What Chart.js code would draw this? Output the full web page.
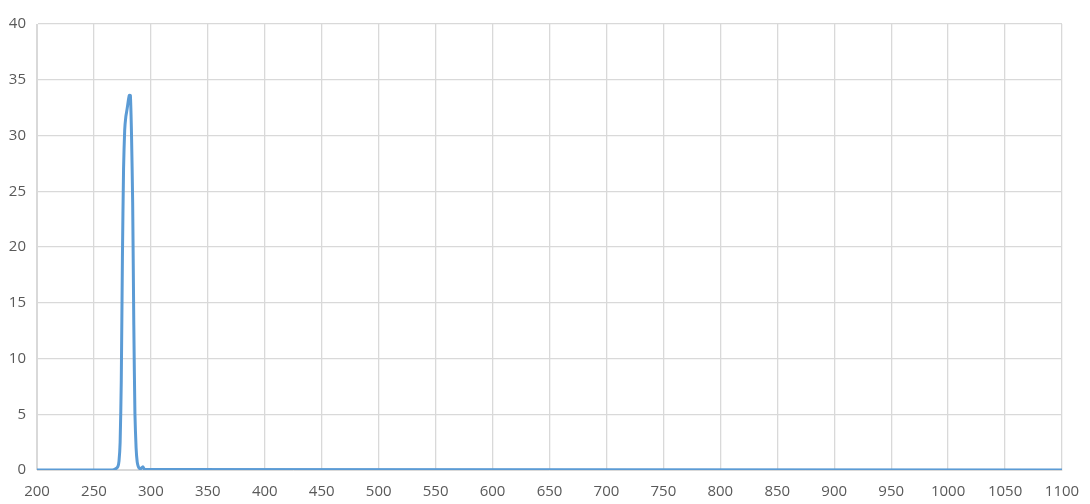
<!DOCTYPE html>
<html>
<head>
<meta charset="utf-8">
<script src="https://cdn.jsdelivr.net/npm/chart.js@4"></script>
<style>
    html, body { margin: 0; padding: 0; background: #ffffff; }
    #wrap { width: 1090px; height: 504px; position: relative; }
</style>
</head>
<body>
<div id="wrap"><canvas id="spectrumChart"></canvas></div>
<script>
const wavelengths = [200, 266, 269, 271, 272, 273, 274, 275, 276, 277, 278, 279, 280, 281, 282, 283, 284, 285, 286, 287, 288, 289, 290, 291, 293, 294, 296, 1100];
const intensity = [0, 0, 0.1, 0.3, 0.8, 2.5, 8, 19, 27, 30.5, 31.7, 32.3, 33, 33.6, 33.6, 30, 24, 13, 5, 2, 0.7, 0.3, 0.15, 0.1, 0.3, 0.1, 0.05, 0];
const xTicks = [200, 250, 300, 350, 400, 450, 500, 550, 600, 650, 700, 750, 800, 850, 900, 950, 1000, 1050, 1100];
const yTicks = [0, 5, 10, 15, 20, 25, 30, 35, 40];

let spectrumChartInstance = null;

function renderSpectrumChart() {
    const ctx = document.getElementById("spectrumChart");
    if (!ctx) return;

    const points = wavelengths.map((w, i) => ({ x: w, y: intensity[i] }));
    const tickFont = { family: "'Open Sans', 'Liberation Sans', sans-serif", size: 15 };

    spectrumChartInstance = new Chart(ctx, {
        type: "line",
        data: {
            datasets: [{
                data: points,
                borderColor: "#5b9bd5",
                borderWidth: 3,
                pointRadius: 0,
                tension: 0.2,
                fill: false
            }]
        },
        options: {
            responsive: true,
            maintainAspectRatio: false,
            animation: false,
            layout: { padding: { top: 24, right: 28, left: 0, bottom: 0 } },
            plugins: {
                legend: { display: false },
                tooltip: { enabled: false }
            },
            scales: {
                x: {
                    type: "linear",
                    min: xTicks[0],
                    max: xTicks[xTicks.length - 1],
                    afterBuildTicks: (axis) => { axis.ticks = xTicks.map((v) => ({ value: v })); },
                    afterFit: (axis) => {
                        axis.height = 34;
                        axis.paddingLeft = 0;
                        axis.paddingRight = 0;
                    },
                    ticks: {
                        color: "#595959",
                        font: tickFont,
                        maxRotation: 0,
                        autoSkip: false,
                        padding: 13,
                        callback: (value) => String(value)
                    },
                    grid: { color: "#d9d9d9", lineWidth: 1.3, drawTicks: false },
                    border: { color: "#d9d9d9" }
                },
                y: {
                    min: yTicks[0],
                    max: yTicks[yTicks.length - 1],
                    afterBuildTicks: (axis) => { axis.ticks = yTicks.map((v) => ({ value: v })); },
                    afterFit: (axis) => {
                        axis.width = 37;
                        axis.paddingTop = 0;
                        axis.paddingBottom = 0;
                    },
                    ticks: {
                        color: "#595959",
                        font: tickFont,
                        padding: 11,
                        callback: (value) => String(value)
                    },
                    grid: { color: "#d9d9d9", lineWidth: 1.3, drawTicks: false },
                    border: { color: "#d9d9d9" }
                }
            }
        }
    });
}

document.addEventListener("DOMContentLoaded", renderSpectrumChart);
</script>
</body>
</html>
